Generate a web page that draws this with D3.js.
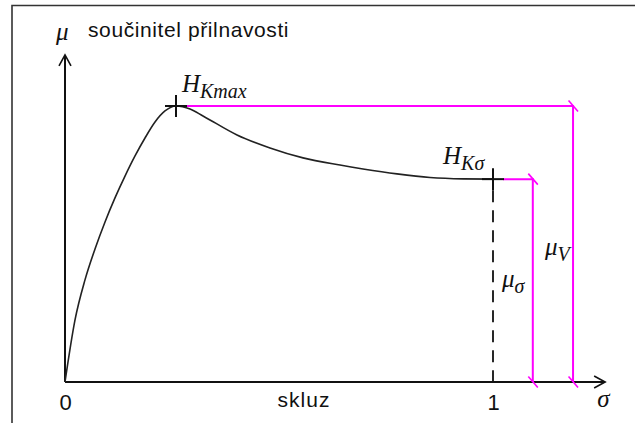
<!DOCTYPE html>
<html>
<head>
<meta charset="utf-8">
<script src="https://cdn.jsdelivr.net/npm/d3@7"></script>
<style>
  html, body { margin: 0; padding: 0; background: #fff; }
  svg { display: block; }
  .math { font-family: "Liberation Serif", "DejaVu Serif", serif; font-style: italic; fill: #111; }
  .sans { font-family: "Liberation Sans", Arial, sans-serif; fill: #111; }
</style>
</head>
<body>
<svg id="chart" width="635" height="423"></svg>
<script>
// Adhesion curve: coefficient of adhesion (mu) against slip (sigma)
const slip = [0, 0.0234, 0.0467, 0.0701, 0.0935, 0.1168, 0.1402, 0.1636, 0.1869, 0.2103, 0.2336, 0.2593,
              0.2921, 0.3224, 0.4019, 0.4790, 0.5561, 0.6425, 0.6963, 0.7757, 0.8528, 0.9299, 1.0];
const mu   = [0, 0.225, 0.370, 0.482, 0.580, 0.667, 0.746, 0.819, 0.884, 0.942, 0.982, 1.0,
              0.989, 0.964, 0.895, 0.848, 0.812, 0.786, 0.772, 0.754, 0.741, 0.736, 0.735];

const peakSlip = 0.2593;    // H_Kmax
const muMax = 1.0;
const fullSlip = 1.0;       // H_Ksigma
const muSigma = 0.735;
const muSigmaAt = 1.093;    // measuring line for mu_sigma
const muVAt = 1.187;        // measuring line for mu_V
const slipAxisEnd = 1.262;
const muAxisEnd = 1.185;

const xTicks = [0, 1];
const xTickLabels = ["0", "1"];
const yTitle = "součinitel přilnavosti";
const xTitle = "skluz";

const svg = d3.select("#chart");

const x = d3.scaleLinear().domain([0, 1]).range([65, 493]);
const y = d3.scaleLinear().domain([0, 1]).range([382, 106]);

// frame
svg.append("path")
  .attr("d", "M12,423 V5.5 H635")
  .attr("fill", "none").attr("stroke", "#333").attr("stroke-width", 1.6);

const black = "#111";
const magenta = "#ff00ff";

// axes with open arrowheads
const ax = svg.append("g").attr("stroke", black).attr("stroke-width", 2).attr("fill", "none");
ax.append("line").attr("x1", x(0)).attr("y1", y(0)).attr("x2", x(slipAxisEnd)).attr("y2", y(0));
ax.append("line").attr("x1", x(0)).attr("y1", y(0)).attr("x2", x(0)).attr("y2", y(muAxisEnd));
ax.append("path").attr("stroke-width", 1.6)
  .attr("d", `M${x(slipAxisEnd) - 11},${y(0) - 6} L${x(slipAxisEnd)},${y(0)} L${x(slipAxisEnd) - 11},${y(0) + 6}`);
ax.append("path").attr("stroke-width", 1.6)
  .attr("d", `M${x(0) - 6},${y(muAxisEnd) + 11} L${x(0)},${y(muAxisEnd)} L${x(0) + 6},${y(muAxisEnd) + 11}`);

// tick labels on slip axis
const xAxis = d3.axisBottom(x).tickValues(xTicks).tickSize(0)
  .tickFormat((d, i) => xTickLabels[i]);
const gx = svg.append("g").attr("transform", `translate(0,${y(0)})`).call(xAxis);
gx.select(".domain").remove();
gx.selectAll("text")
  .attr("class", "sans").attr("y", 28).attr("dy", 0)
  .style("font-size", "22px").attr("fill", black);

// adhesion curve
const line = d3.line().x((d, i) => x(slip[i])).y((d, i) => y(mu[i])).curve(d3.curveMonotoneX);
svg.append("path").datum(mu).attr("d", line)
  .attr("fill", "none").attr("stroke", "#222").attr("stroke-width", 1.6);

// dashed drop line at sigma = 1
svg.append("line")
  .attr("x1", x(fullSlip)).attr("x2", x(fullSlip))
  .attr("y1", y(muSigma) + 11).attr("y2", y(0))
  .attr("stroke", black).attr("stroke-width", 1.8).attr("stroke-dasharray", "12,8");

// magenta measuring lines
const mg = svg.append("g").attr("stroke", magenta).attr("stroke-width", 2).attr("fill", "none");
mg.append("path").attr("d", `M${x(peakSlip) + 11},${y(muMax)} H${x(muVAt)} V${y(0)}`);
mg.append("path").attr("d", `M${x(fullSlip) + 10},${y(muSigma)} H${x(muSigmaAt)} V${y(0)}`);
const slashes = [[muVAt, muMax], [muVAt, 0], [muSigmaAt, muSigma], [muSigmaAt, 0]];
mg.selectAll("line.slash").data(slashes).join("line").attr("class", "slash")
  .attr("stroke-width", 1.6)
  .attr("x1", d => x(d[0]) - 4.5).attr("y1", d => y(d[1]) - 5.5)
  .attr("x2", d => x(d[0]) + 5).attr("y2", d => y(d[1]) + 5.5);

// cross markers at H_Kmax and H_Ksigma
const crosses = [[peakSlip, muMax], [fullSlip, muSigma]];
const cg = svg.append("g").attr("stroke", black).attr("stroke-width", 2);
crosses.forEach(d => {
  cg.append("line").attr("x1", x(d[0]) - 11).attr("x2", x(d[0]) + 11).attr("y1", y(d[1])).attr("y2", y(d[1]));
  cg.append("line").attr("x1", x(d[0])).attr("x2", x(d[0])).attr("y1", y(d[1]) - 11).attr("y2", y(d[1]) + 11);
});

// text labels
function mathLabel(px, py, main, sub, size) {
  const t = svg.append("text").attr("class", "math").attr("x", px).attr("y", py)
    .style("font-size", size + "px");
  t.append("tspan").text(main);
  if (sub) t.append("tspan").attr("dy", size * 0.22).style("font-size", (size * 0.8) + "px").text(sub);
  return t;
}

mathLabel(x(0) - 9, 40, "μ", null, 25);
svg.append("text").attr("class", "sans").attr("x", 88).attr("y", 37)
  .style("font-size", "21px").style("letter-spacing", "0.6px").text(yTitle);
svg.append("text").attr("class", "sans").attr("x", 304).attr("y", 407)
  .attr("text-anchor", "middle").style("font-size", "21px").style("letter-spacing", "1px").text(xTitle);
mathLabel(x(slipAxisEnd) - 8, 407, "σ", null, 25);

mathLabel(x(peakSlip) + 6, 92, "H", "Kmax", 25);
mathLabel(x(fullSlip) - 50, 164, "H", "Kσ", 25);
mathLabel(x(fullSlip) + 9, 287, "μ", "σ", 25);
mathLabel(x(muVAt) - 28, 255, "μ", "V", 25);
</script>
</body>
</html>
